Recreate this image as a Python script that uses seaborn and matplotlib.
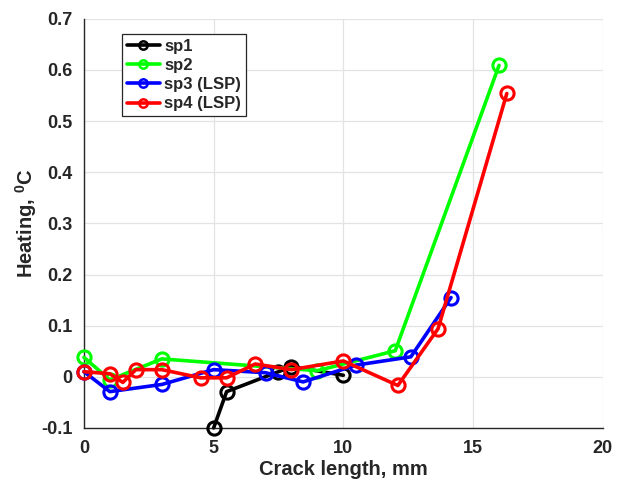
import matplotlib
matplotlib.use("Agg")
import matplotlib.pyplot as plt
import seaborn as sns
import pandas as pd

# data
sp1_x = [5, 5.5, 7.5, 8, 10]
sp1_y = [-0.1, -0.029, 0.010, 0.020, 0.003]

sp2_x = [0, 1, 3, 9, 12, 16]
sp2_y = [0.038, -0.006, 0.035, 0.012, 0.051, 0.609]

sp3_x = [0, 1, 3, 5, 7, 8.45, 10.5, 12.6, 14.15]
sp3_y = [0.010, -0.029, -0.015, 0.014, 0.008, -0.010, 0.023, 0.039, 0.155]

sp4_x = [0, 1, 1.5, 2, 3, 4.5, 5.5, 6.6, 8, 10, 12.1, 13.65, 16.3]
sp4_y = [0.010, 0.006, -0.011, 0.014, 0.014, -0.002, -0.002, 0.025, 0.014, 0.031, -0.017, 0.094, 0.554]

series = [
    ("sp1", sp1_x, sp1_y, "#000000"),
    ("sp2", sp2_x, sp2_y, "#00ff00"),
    ("sp3 (LSP)", sp3_x, sp3_y, "#0000ff"),
    ("sp4 (LSP)", sp4_x, sp4_y, "#ff0000"),
]


def main():
    sns.set_style("whitegrid")
    plt.rcParams["font.family"] = ["Liberation Sans", "DejaVu Sans"]
    plt.rcParams["font.weight"] = "bold"
    plt.rcParams["mathtext.fontset"] = "custom"
    plt.rcParams["mathtext.rm"] = "Liberation Sans:bold"
    plt.rcParams["mathtext.bf"] = "Liberation Sans:bold"

    fig = plt.figure(figsize=(6.17, 4.83), dpi=100)
    ax = fig.add_axes([0.136, 0.114, 0.841, 0.847])

    for name, xs, ys, col in series:
        df = pd.DataFrame({"x": xs, "y": ys})
        sns.lineplot(data=df, x="x", y="y", sort=False, estimator=None,
                     color=col, label=name, ax=ax, linewidth=2.6,
                     marker="o", markersize=9.5, markerfacecolor="none",
                     markeredgecolor=col, markeredgewidth=2.2, zorder=3,
                     clip_on=False)

    ax.set_xlim(0, 20)
    ax.set_ylim(-0.1, 0.7)
    ax.set_xticks([0, 5, 10, 15, 20])
    ax.set_yticks([-0.1, 0, 0.1, 0.2, 0.3, 0.4, 0.5, 0.6, 0.7])
    ax.set_yticklabels(["-0.1", "0", "0.1", "0.2", "0.3", "0.4", "0.5", "0.6", "0.7"])
    ax.grid(True, color="#e3e3e3", linewidth=0.9)
    ax.set_axisbelow(True)

    for s in ["top", "right"]:
        ax.spines[s].set_visible(False)
    for s in ["left", "bottom"]:
        ax.spines[s].set_color("#262626")
        ax.spines[s].set_linewidth(1.0)

    ax.tick_params(direction="in", length=5, width=0.8, colors="#262626",
                   labelsize=13, labelcolor="#262626")
    ax.tick_params(axis="x", pad=9)
    ax.tick_params(axis="y", pad=8)
    for lab in ax.get_xticklabels() + ax.get_yticklabels():
        lab.set_fontweight("bold")

    ax.set_xlabel("Crack length, mm", fontsize=14.5, fontweight="bold", color="#262626", labelpad=2)
    ax.set_ylabel(r"Heating, $^{0}$C", fontsize=14.5, fontweight="bold", color="#262626", labelpad=1.5)

    leg = ax.legend(loc="upper left", bbox_to_anchor=(0.073, 0.963), borderaxespad=0,
                    fancybox=False, framealpha=1, edgecolor="#262626",
                    prop={"weight": "bold", "size": 12}, handlelength=2.0,
                    labelspacing=0.25, borderpad=0.3, handletextpad=0.25)
    leg.get_frame().set_linewidth(0.9)
    for h in leg.legend_handles:
        h.set_markersize(6)
        h.set_markeredgewidth(1.8)
        h.set_linewidth(2.6)

    fig.savefig("out.png", dpi=100)


if __name__ == "__main__":
    main()
